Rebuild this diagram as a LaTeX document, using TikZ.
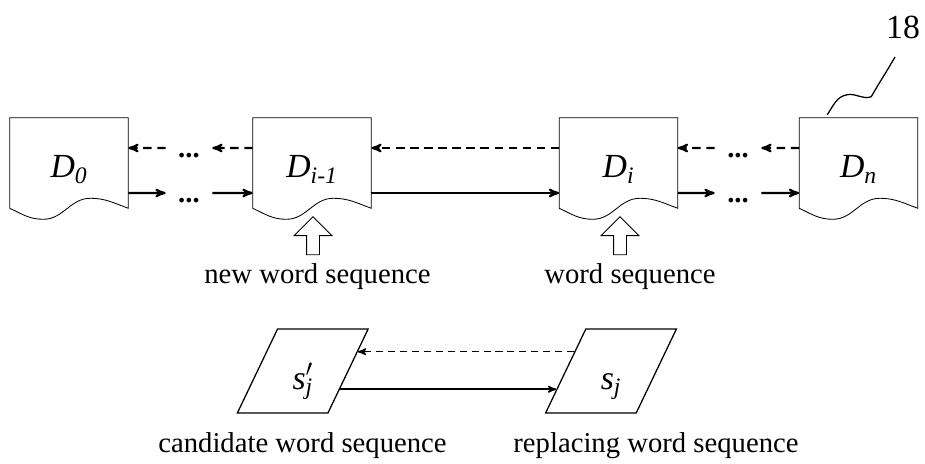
\documentclass[tikz,border=0pt]{standalone}
\usepackage{fontspec}
\setmainfont{Liberation Serif}
\usetikzlibrary{arrows,calc,shapes.geometric,shapes.arrows}
\newcommand\figfont{\fontsize{20.4}{24}\selectfont}
\newcommand\symfont{\fontsize{24}{28}\selectfont}
\tikzset{
  docnode/.style = {minimum width=2.95cm, minimum height=2.25cm, inner sep=0pt,
    text height=21.3pt, text depth=0pt, font=\symfont},% document page, outline drawn below
  docline/.style = {line width=0.6pt},
  dotsnode/.style = {minimum width=1.15cm, inner sep=0pt, text height=13.5pt,
    font=\figfont\bfseries},
  seqbox/.style = {trapezium, trapezium left angle=66, trapezium right angle=114,
    trapezium stretches=true, draw, line width=0.9pt, minimum width=3.275cm,
    minimum height=2.1cm, inner sep=0pt, text height=26pt, text depth=0pt,
    font=\symfont},% word sequence
  feedbox/.style = {single arrow, draw, line width=0.6pt, shape border rotate=90,
    inner sep=0.15cm, minimum height=0.95cm, single arrow head extend=0.31cm},
  fwd/.style = {->, line width=1.5pt},
  bwd/.style = {fwd, dash pattern=on 6pt off 4pt},
  fwdthin/.style = {->, line width=1.1pt},
  bwdthin/.style = {fwdthin, dash pattern=on 5pt off 3.5pt},
}

\begin{document}
\begin{tikzpicture}[x=0.025cm, y=0.025cm, >=stealth', every node/.style={font=\figfont}]
\useasboundingbox (0,0) rectangle (925,-464);

% documents
\node [docnode] (d0)  at (69,-163)    {\textit{D}\textsubscript{\textit{0}}};
\node [docnode] (dim) at (312,-163)   {\textit{D}\textsubscript{\textit{i-1}}};
\node [docnode] (di)  at (618.5,-163) {\textit{D}\textsubscript{\textit{i}}};
\node [docnode] (dn)  at (858.5,-163) {\textit{D}\textsubscript{\textit{n}}};
\foreach \d in {d0,dim,di,dn}
  \draw [docline] (\d.south west) -- (\d.north west) -- (\d.north east) -- (\d.south east)
    to[out=160,in=0] ($(\d.south east)+(-38,10)$)
    to[out=180,in=0] ($(\d.south east)+(-85,-11)$)
    to[out=180,in=-25] (\d.south west);

% dots
\node [dotsnode] (dA1) at (189,-148) {...};
\node [dotsnode] (dA2) at (189,-193) {...};
\node [dotsnode] (dB1) at (738,-148) {...};
\node [dotsnode] (dB2) at (738,-193) {...};

% forward
\draw [fwd] ([yshift=-0.75cm]d0.east) -- (dA2.west);
\draw [fwd] (dA2.east) -- ([yshift=-0.75cm]dim.west);
\draw [fwd] ([yshift=-0.75cm]dim.east) -- ([yshift=-0.75cm]di.west);
\draw [fwd] ([yshift=-0.75cm]di.east) -- (dB2.west);
\draw [fwd] (dB2.east) -- ([yshift=-0.75cm]dn.west);
% backward
\draw [bwd] ([yshift=0.375cm]dn.west) -- (dB1.east);
\draw [bwd] (dB1.west) -- ([yshift=0.375cm]di.east);
\draw [bwd] ([yshift=0.375cm]di.west) -- ([yshift=0.375cm]dim.east);
\draw [bwd] ([yshift=0.375cm]dim.west) -- (dA1.east);
\draw [bwd] (dA1.west) -- ([yshift=0.375cm]d0.east);

% input arrows
\node [feedbox] (upA) at (313,-239) {};
\node [feedbox] (upB) at (620,-239) {};
\node (newlbl)  at (317.5,-277) {new word sequence};
\node (wordlbl) at (630,-277)   {word sequence};

% reference numeral
\node (n18) at (903,-27) {\fontsize{24}{28}\selectfont 18};
\coordinate (tip18) at (895,-57);
\draw [docline, line width=0.9pt] ([xshift=0.7cm,yshift=0.075cm]dn.north west)
  to[out=55,in=190] ++(20,20) to[out=10,in=200] ++(24,-2) to[out=60,in=240] (tip18);

% word sequences
\node [seqbox] (pj) at (302.75,-371)
  {\textit{s}\rlap{\textsuperscript{$\prime$}}\textsubscript{\textit{j}}};
\node [seqbox] (sj) at (611,-371) {\textit{s}\textsubscript{\textit{j}}};
\draw [bwdthin] ($(sj.top left corner)!0.274!(sj.bottom left corner)$)
  -- ($(pj.top right corner)!0.274!(pj.bottom right corner)$);
\draw [fwdthin] ($(pj.top right corner)!0.714!(pj.bottom right corner)$)
  -- ($(sj.top left corner)!0.714!(sj.bottom left corner)$);
\node (candlbl) at (302.5,-446) {candidate word sequence};
\node (repllbl) at (656,-446)   {replacing word sequence};
\end{tikzpicture}
\end{document}
